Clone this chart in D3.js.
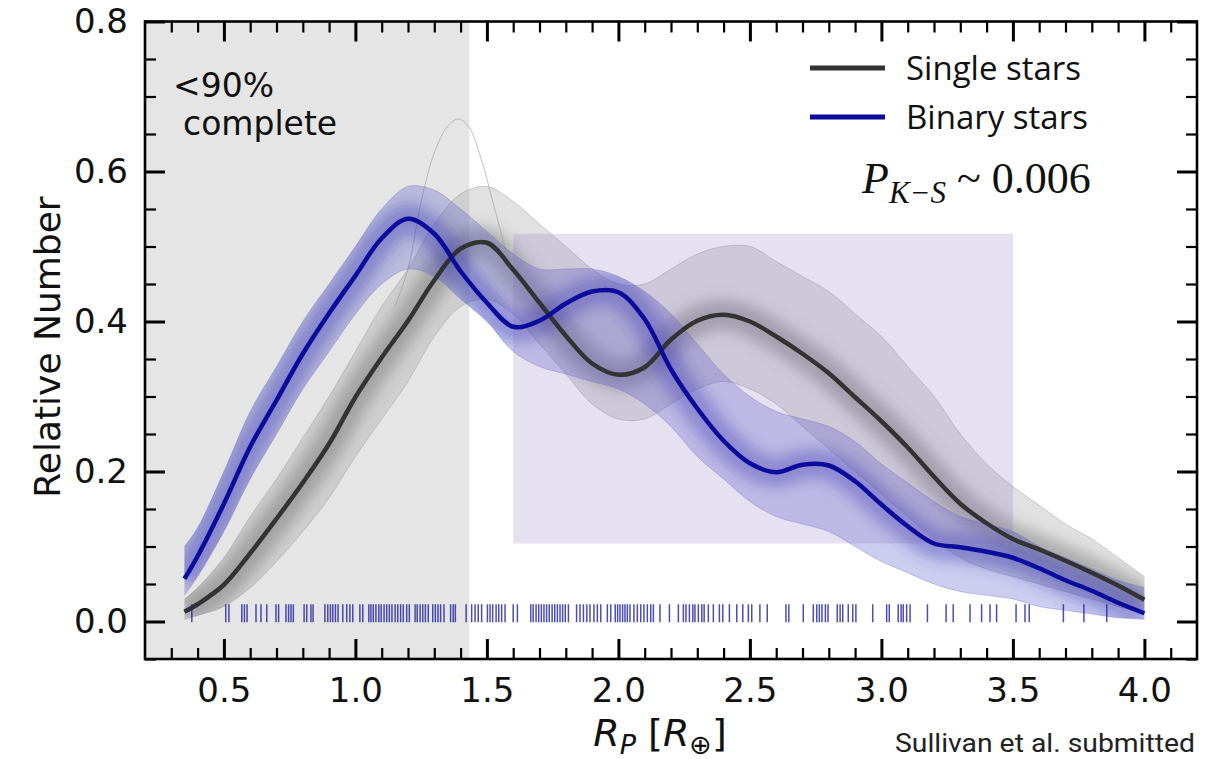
<!DOCTYPE html>
<html>
<head>
<meta charset="utf-8">
<script src="https://cdn.jsdelivr.net/npm/d3@7"></script>
<style>
  html, body { margin: 0; padding: 0; background: #fff; }
  svg { display: block; }
</style>
</head>
<body>
<svg id="chart" width="1212" height="759"></svg>
<script>
// ---------------- DATA ----------------
const gridX = [0.35,0.4,0.5,0.6,0.7,0.8,0.9,1.0,1.1,1.2,1.3,1.4,1.5,1.6,1.7,1.8,1.9,2.0,2.1,2.2,2.3,2.4,2.5,2.6,2.7,2.8,2.9,3.0,3.1,3.2,3.3,3.4,3.5,3.6,3.7,3.8,3.9,4.0];

const singleMain = [0.013,0.023,0.049,0.091,0.137,0.185,0.237,0.299,0.352,0.401,0.455,0.497,0.505,0.469,0.425,0.381,0.344,0.329,0.339,0.376,0.401,0.409,0.400,0.380,0.357,0.331,0.299,0.267,0.232,0.193,0.157,0.131,0.110,0.096,0.081,0.065,0.048,0.029];
const binaryMain = [0.057,0.087,0.157,0.233,0.295,0.357,0.411,0.461,0.511,0.537,0.517,0.467,0.425,0.393,0.401,0.424,0.440,0.439,0.403,0.336,0.284,0.241,0.211,0.199,0.209,0.208,0.187,0.156,0.127,0.104,0.099,0.093,0.085,0.071,0.055,0.041,0.025,0.011];

const singleLo = [0.003,0.008,0.020,0.045,0.080,0.120,0.165,0.220,0.270,0.320,0.380,0.420,0.430,0.410,0.370,0.330,0.290,0.270,0.270,0.290,0.310,0.320,0.310,0.290,0.260,0.230,0.200,0.170,0.140,0.110,0.085,0.070,0.060,0.050,0.040,0.030,0.020,0.010];
const singleHi = [0.030,0.045,0.085,0.140,0.190,0.245,0.300,0.360,0.420,0.470,0.530,0.570,0.580,0.560,0.530,0.500,0.470,0.450,0.450,0.470,0.490,0.500,0.500,0.480,0.460,0.440,0.410,0.380,0.340,0.300,0.250,0.210,0.180,0.155,0.130,0.110,0.085,0.060];
const binaryLo = [0.035,0.060,0.120,0.190,0.250,0.310,0.360,0.410,0.450,0.470,0.460,0.430,0.400,0.360,0.340,0.330,0.320,0.310,0.290,0.260,0.220,0.190,0.160,0.140,0.130,0.120,0.100,0.080,0.065,0.050,0.040,0.035,0.030,0.020,0.015,0.010,0.005,0.003];
const binaryHi = [0.100,0.125,0.200,0.280,0.340,0.400,0.450,0.500,0.550,0.580,0.575,0.550,0.520,0.490,0.470,0.470,0.470,0.460,0.440,0.410,0.370,0.330,0.300,0.280,0.270,0.260,0.240,0.210,0.185,0.160,0.140,0.130,0.120,0.100,0.085,0.070,0.055,0.045];

// one visible outlier sample among the single-star draws
const outlierX = [1.15,1.20,1.25,1.30,1.35,1.39,1.43,1.48,1.53,1.60,1.70];
const outlierY = [0.420,0.470,0.560,0.625,0.660,0.670,0.660,0.615,0.550,0.470,0.420];

// rug of binary-star planet radii
const rugX = [0.378,0.507,0.519,0.568,0.578,0.588,0.622,0.641,0.663,0.698,0.708,0.736,0.746,0.755,0.764,0.805,0.815,0.831,0.839,
  0.884,0.895,0.905,0.914,0.924,0.934,0.952,0.967,0.979,0.990,1.017,1.028,1.051,1.059,1.068,1.078,1.089,1.098,1.109,1.119,1.129,
  1.139,1.151,1.161,1.172,1.182,1.195,1.205,1.227,1.235,1.246,1.256,1.266,1.277,1.294,1.304,1.314,1.324,1.337,1.362,1.372,1.380,
  1.421,1.442,1.455,1.467,1.480,1.502,1.512,1.522,1.535,1.545,1.556,1.569,1.600,1.616,1.667,1.676,1.687,1.697,1.707,1.717,1.727,
  1.737,1.748,1.758,1.768,1.778,1.788,1.798,1.810,1.841,1.854,1.867,1.880,1.892,1.907,1.920,1.933,1.958,1.971,1.988,1.997,2.006,
  2.016,2.025,2.034,2.044,2.059,2.072,2.085,2.097,2.110,2.123,2.133,2.158,2.194,2.228,2.247,2.257,2.270,2.283,2.291,2.304,2.317,
  2.326,2.342,2.361,2.384,2.397,2.422,2.450,2.473,2.494,2.507,2.538,2.566,2.637,2.648,2.703,2.741,2.754,2.764,2.774,2.787,2.797,
  2.832,2.843,2.853,2.874,2.891,2.903,2.967,3.020,3.030,3.064,3.075,3.083,3.096,3.109,3.175,3.246,3.273,3.337,3.381,3.413,3.438,
  3.512,3.546,3.562,3.692,3.770,3.857];
const rugY = 0.011;

const incompleteLimit = 1.433;          // <90% complete region upper edge
const highlightBox = {x0: 1.6, x1: 3.5, y0: 0.104, y1: 0.517};

const xMajorTicks = [0.5,1.0,1.5,2.0,2.5,3.0,3.5,4.0];
const yMajorTicks = [0.0,0.2,0.4,0.6,0.8];
const xMinorTicks = [0.3,0.4,0.6,0.7,0.8,0.9,1.1,1.2,1.3,1.4,1.6,1.7,1.8,1.9,2.1,2.2,2.3,2.4,2.6,2.7,2.8,2.9,3.1,3.2,3.3,3.4,3.6,3.7,3.8,3.9,4.1];
const yMinorTicks = [-0.05,0.05,0.1,0.15,0.25,0.3,0.35,0.45,0.5,0.55,0.65,0.7,0.75];

const legendLabels = ["Single stars", "Binary stars"];

// ---------------- CHART ----------------
const svg = d3.select("#chart");
const L = 145, R = 1197, T = 21.5, B = 659;
const x = d3.scaleLinear().domain([0.2, 4.2]).range([L, R]);
const y = d3.scaleLinear().domain([-0.05, 0.8]).range([B, T]);

const colSingle = "#333333";
const colBinary = "#0b0b9c";

function band(lo, hi) {
  return d3.area()
    .x((d,i) => x(gridX[i]))
    .y0((d,i) => y(lo[i]))
    .y1((d,i) => y(hi[i]))
    .curve(d3.curveCatmullRom.alpha(0.5))(gridX);
}
const line = (vals) => d3.line()
  .x((d,i) => x(gridX[i]))
  .y((d,i) => y(vals[i]))
  .curve(d3.curveCatmullRom.alpha(0.5))(gridX);

const defs = svg.append("defs");
defs.append("clipPath").attr("id","plotclip").append("rect")
  .attr("x", L).attr("y", T).attr("width", R-L).attr("height", B-T);
defs.append("clipPath").attr("id","clipS").append("path").attr("d", band(singleLo, singleHi));
defs.append("clipPath").attr("id","clipB").append("path").attr("d", band(binaryLo, binaryHi));
defs.append("filter").attr("id","soft").attr("x","-10%").attr("y","-20%").attr("width","120%").attr("height","140%")
  .append("feGaussianBlur").attr("stdDeviation", 7);

const plot = svg.append("g").attr("clip-path","url(#plotclip)");

// incomplete region
plot.append("rect")
  .attr("x", x(0.2)).attr("y", T)
  .attr("width", x(incompleteLimit) - x(0.2)).attr("height", B - T)
  .attr("fill", "#e5e5e5");

// single-star sample band: light envelope + denser core around the mean curve
const gS = plot.append("g");
gS.append("path").attr("d", band(singleLo, singleHi))
  .attr("fill", "#9a9a9a").attr("fill-opacity", 0.30);
gS.append("g").attr("clip-path","url(#clipS)").append("path").attr("d", line(singleMain))
  .attr("fill","none").attr("stroke","#666").attr("stroke-opacity",0.42)
  .attr("stroke-width", 30).attr("stroke-linejoin","round").attr("filter","url(#soft)");
[singleLo, singleHi].forEach(v => gS.append("path").attr("d", line(v))
  .attr("fill","none").attr("stroke","#888").attr("stroke-opacity",0.35).attr("stroke-width",1));
gS.append("path")
  .attr("d", d3.line().x((d,i)=>x(outlierX[i])).y((d,i)=>y(outlierY[i])).curve(d3.curveCatmullRom.alpha(0.5))(outlierX))
  .attr("fill","none").attr("stroke","#999").attr("stroke-opacity",0.6).attr("stroke-width",1);

// binary-star sample band
const gB = plot.append("g");
gB.append("path").attr("d", band(binaryLo, binaryHi))
  .attr("fill", "#4c4cc6").attr("fill-opacity", 0.28);
gB.append("g").attr("clip-path","url(#clipB)").append("path").attr("d", line(binaryMain))
  .attr("fill","none").attr("stroke","#3434b4").attr("stroke-opacity",0.4)
  .attr("stroke-width", 30).attr("stroke-linejoin","round").attr("filter","url(#soft)");
[binaryLo, binaryHi].forEach(v => gB.append("path").attr("d", line(v))
  .attr("fill","none").attr("stroke","#6666cc").attr("stroke-opacity",0.35).attr("stroke-width",1));

// highlight box
plot.append("rect")
  .attr("x", x(highlightBox.x0)).attr("y", y(highlightBox.y1))
  .attr("width", x(highlightBox.x1) - x(highlightBox.x0))
  .attr("height", y(highlightBox.y0) - y(highlightBox.y1))
  .attr("fill", "rgb(130,105,185)").attr("fill-opacity", 0.2);

// main curves
plot.append("path").attr("d", line(singleMain))
  .attr("fill","none").attr("stroke", colSingle).attr("stroke-width", 4.5);
plot.append("path").attr("d", line(binaryMain))
  .attr("fill","none").attr("stroke", colBinary).attr("stroke-width", 4.5);

// rug
plot.append("g").selectAll("line").data(rugX).join("line")
  .attr("x1", d => x(d)).attr("x2", d => x(d))
  .attr("y1", y(rugY) - 9).attr("y2", y(rugY) + 9)
  .attr("stroke", "#1f1fa0").attr("stroke-opacity", 0.8).attr("stroke-width", 1.5);

// axes (inward ticks on all sides)
const fmt = d3.format(".1f");
function styleAxis(g, major) {
  g.select(".domain").remove();
  g.selectAll(".tick line").attr("stroke","#000").attr("stroke-width", major ? 3 : 2.2);
}
svg.append("g").attr("transform",`translate(0,${B})`)
  .call(d3.axisBottom(x).tickValues(xMajorTicks).tickSize(-20).tickPadding(12).tickFormat(fmt))
  .call(g => styleAxis(g, true))
  .call(g => g.selectAll("text").attr("font-family","DejaVu Sans").attr("font-size",34).attr("fill","#111").attr("dy","0.9em"));
svg.append("g").attr("transform",`translate(0,${B})`)
  .call(d3.axisBottom(x).tickValues(xMinorTicks).tickSize(-11).tickFormat(""))
  .call(g => styleAxis(g, false));
svg.append("g").attr("transform",`translate(0,${T})`)
  .call(d3.axisTop(x).tickValues(xMajorTicks).tickSize(-20).tickFormat(""))
  .call(g => styleAxis(g, true));
svg.append("g").attr("transform",`translate(0,${T})`)
  .call(d3.axisTop(x).tickValues(xMinorTicks).tickSize(-11).tickFormat(""))
  .call(g => styleAxis(g, false));

svg.append("g").attr("transform",`translate(${L},0)`)
  .call(d3.axisLeft(y).tickValues(yMajorTicks).tickSize(-20).tickPadding(17).tickFormat(fmt))
  .call(g => styleAxis(g, true))
  .call(g => g.selectAll("text").attr("font-family","DejaVu Sans").attr("font-size",34).attr("fill","#111"));
svg.append("g").attr("transform",`translate(${L},0)`)
  .call(d3.axisLeft(y).tickValues(yMinorTicks).tickSize(-11).tickFormat(""))
  .call(g => styleAxis(g, false));
svg.append("g").attr("transform",`translate(${R},0)`)
  .call(d3.axisRight(y).tickValues(yMajorTicks).tickSize(-20).tickFormat(""))
  .call(g => styleAxis(g, true));
svg.append("g").attr("transform",`translate(${R},0)`)
  .call(d3.axisRight(y).tickValues(yMinorTicks).tickSize(-11).tickFormat(""))
  .call(g => styleAxis(g, false));

// frame
svg.append("rect").attr("x", L).attr("y", T).attr("width", R-L).attr("height", B-T)
  .attr("fill","none").attr("stroke","#000").attr("stroke-width", 2.6);

// axis titles
svg.append("text")
  .attr("transform", "translate(60,347) rotate(-90)")
  .attr("text-anchor","middle").attr("font-family","DejaVu Sans").attr("font-size",36).attr("fill","#111")
  .text("Relative Number");

const xt = svg.append("text").attr("x", 660).attr("y", 746).attr("text-anchor","middle")
  .attr("font-family","DejaVu Sans").attr("font-size",38).attr("fill","#111");
xt.append("tspan").attr("font-style","italic").text("R");
xt.append("tspan").attr("font-style","italic").attr("font-size",27).attr("dy",8).text("P");
xt.append("tspan").attr("dy",-8).text(" [");
xt.append("tspan").attr("font-style","italic").text("R");
xt.append("tspan").attr("font-size",27).attr("dy",8).text("⊕");
xt.append("tspan").attr("dy",-8).text("]");

svg.append("text").attr("x", 1195).attr("y", 752).attr("text-anchor","end")
  .attr("font-family","Roboto").attr("font-size",25).attr("fill","#222")
  .attr("textLength", 300).attr("lengthAdjust","spacingAndGlyphs")
  .text("Sullivan et al. submitted");

// region annotation
svg.append("text").attr("x",173).attr("y",97).attr("font-family","DejaVu Sans").attr("font-size",33).attr("fill","#111").text("<90%");
svg.append("text").attr("x",183).attr("y",135).attr("font-family","DejaVu Sans").attr("font-size",33).attr("fill","#111").text("complete");

// legend
const legCols = [colSingle, colBinary];
const legY = [68, 117];
legendLabels.forEach((lab, i) => {
  svg.append("line").attr("x1",810).attr("x2",885).attr("y1",legY[i]).attr("y2",legY[i])
    .attr("stroke", legCols[i]).attr("stroke-width", 5);
  svg.append("text").attr("x", 906).attr("y", legY[i] + 12)
    .attr("font-family","Open Sans").attr("font-size",33).attr("fill","#111").text(lab);
});

// KS statistic
const ks = svg.append("text").attr("x", 862).attr("y", 193)
  .attr("font-family","Liberation Serif").attr("font-size",44).attr("fill","#111");
ks.append("tspan").attr("font-style","italic").text("P");
ks.append("tspan").attr("font-style","italic").attr("font-size",31).attr("dy",10).text("K−S");
ks.append("tspan").attr("dy",-10).text(" ~ 0.006");
</script>
</body>
</html>
